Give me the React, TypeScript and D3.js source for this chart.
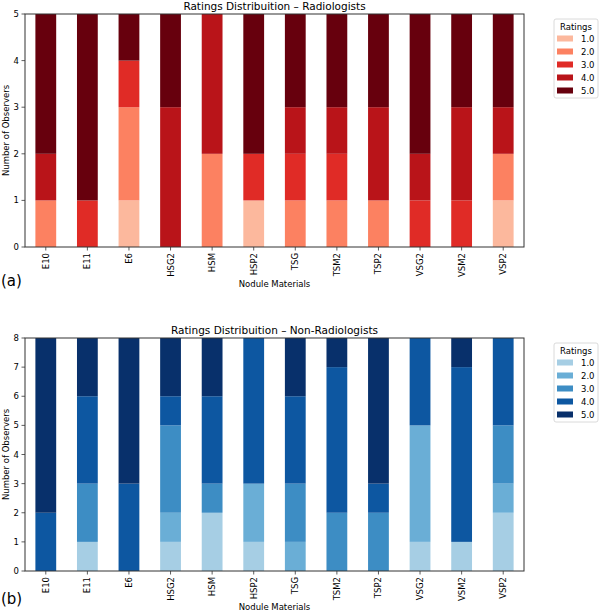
import React from "react";
import * as d3 from "d3";

const categories = ["E10", "E11", "E6", "HSG2", "HSM", "HSP2", "TSG", "TSM2", "TSP2", "VSG2", "VSM2", "VSP2"];
const ratingLabels = ["1.0", "2.0", "3.0", "4.0", "5.0"];

// Radiologists: counts per rating (1..5) per material
const rad1 = [0, 0, 1, 0, 0, 1, 0, 0, 0, 0, 0, 1];
const rad2 = [1, 0, 2, 0, 2, 0, 1, 1, 1, 0, 0, 1];
const rad3 = [0, 1, 1, 0, 0, 1, 1, 1, 0, 1, 1, 0];
const rad4 = [1, 0, 0, 3, 3, 0, 1, 1, 2, 1, 2, 1];
const rad5 = [3, 4, 1, 2, 0, 3, 2, 2, 2, 3, 2, 2];

// Non-radiologists
const non1 = [0, 1, 0, 1, 2, 1, 0, 0, 0, 1, 1, 2];
const non2 = [0, 0, 0, 1, 0, 2, 1, 0, 0, 4, 0, 1];
const non3 = [0, 2, 0, 3, 1, 0, 2, 2, 2, 0, 0, 2];
const non4 = [2, 3, 3, 1, 3, 5, 3, 5, 1, 3, 6, 3];
const non5 = [6, 2, 5, 2, 2, 0, 2, 1, 5, 0, 1, 0];

const redColors = ["#fcb89d", "#fc8161", "#e02b26", "#b91419", "#67000d"];
const blueColors = ["#a6cee4", "#6aaed6", "#3d8dc4", "#0d57a1", "#08306b"];

const FONT = "DejaVu Sans, sans-serif";

type PanelProps = {
  top: number;
  title: string;
  series: number[][];
  colors: string[];
  yMax: number;
  tag: string;
  tagY: number;
  xLabelY: number;
};

function Panel({ top, title, series, colors, yMax, tag, tagY, xLabelY }: PanelProps) {
  const left = 25;
  const right = 524;
  const h = 233;
  const x = d3.scaleBand<string>().domain(categories).range([left, right]).paddingInner(0.5).paddingOuter(0.25);
  const y = d3.scaleLinear().domain([0, yMax]).range([top + h, top]);
  const rows = categories.map((c, i) => {
    const r: any = { cat: c };
    ratingLabels.forEach((k, j) => (r[k] = series[j][i]));
    return r;
  });
  const stacked = d3.stack<any>().keys(ratingLabels)(rows);
  const ticks = d3.range(0, yMax + 1);
  const cx = (left + right) / 2;
  const legTop = top + 5;
  return (
    <g>
      <text x={cx} y={top - 4} textAnchor="middle" fontSize={10.5} fontFamily={FONT} fill="#000">{title}</text>
      {stacked.map((s, j) => (
        <g key={j} fill={colors[j]}>
          {s.map((d, i) =>
            d[1] - d[0] > 0 ? (
              <rect key={i} x={x(categories[i])} y={y(d[1])} width={x.bandwidth()} height={y(d[0]) - y(d[1])} />
            ) : null
          )}
        </g>
      ))}
      <rect x={left} y={top} width={right - left} height={h} fill="none" stroke="#333" strokeWidth={1} />
      {ticks.map((t) => (
        <g key={t}>
          <line x1={left - 3.5} x2={left} y1={y(t)} y2={y(t)} stroke="#333" strokeWidth={0.8} />
          <text x={left - 6} y={y(t) + 3} textAnchor="end" fontSize={8.5} fontFamily={FONT}>{t}</text>
        </g>
      ))}
      {categories.map((c) => {
        const px = (x(c) as number) + x.bandwidth() / 2;
        return (
          <g key={c}>
            <line x1={px} x2={px} y1={top + h} y2={top + h + 3.5} stroke="#333" strokeWidth={0.8} />
            <text transform={`translate(${px + 3},${top + h + 6}) rotate(-90)`} textAnchor="end" fontSize={8.5} fontFamily={FONT}>{c}</text>
          </g>
        );
      })}
      <text x={cx} y={xLabelY} textAnchor="middle" fontSize={8.5} fontFamily={FONT}>Nodule Materials</text>
      <text transform={`translate(9,${top + h / 2}) rotate(-90)`} textAnchor="middle" fontSize={8.5} fontFamily={FONT}>Number of Observers</text>
      <text x={1} y={tagY} fontSize={15} fontFamily={FONT}>{tag}</text>
      <rect x={554} y={legTop} width={44} height={79} rx={2} fill="#fff" stroke="#d0d0d0" strokeWidth={0.8} />
      <text x={576} y={legTop + 11} textAnchor="middle" fontSize={8.5} fontFamily={FONT}>Ratings</text>
      {ratingLabels.map((k, j) => (
        <g key={k}>
          <rect x={557} y={legTop + 16.5 + j * 13} width={16} height={6} fill={colors[j]} />
          <text x={581} y={legTop + 22.5 + j * 13} fontSize={8.5} fontFamily={FONT}>{k}</text>
        </g>
      ))}
    </g>
  );
}

export default function App() {
  return (
    <svg width={600} height={612} style={{ position: "absolute", left: 0, top: 0, background: "#fff" }}>
      <rect width={600} height={612} fill="#fff" />
      <Panel top={14} title="Ratings Distribuition – Radiologists" series={[rad1, rad2, rad3, rad4, rad5]} colors={redColors} yMax={5} tag="(a)" tagY={286} xLabelY={287} />
      <Panel top={338} title="Ratings Distribuition – Non-Radiologists" series={[non1, non2, non3, non4, non5]} colors={blueColors} yMax={8} tag="(b)" tagY={604} xLabelY={610} />
    </svg>
  );
}
